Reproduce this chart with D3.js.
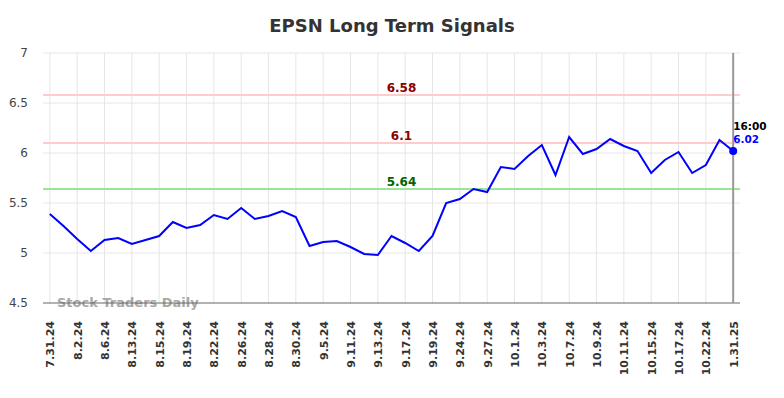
<!DOCTYPE html>
<html>
<head>
<meta charset="utf-8">
<script src="https://cdn.jsdelivr.net/npm/d3@7"></script>
<style>
  body { margin: 0; background: #fff; }
  svg { font-family: "DejaVu Sans", sans-serif; }
  .grid line { stroke: #e6e6e6; stroke-width: 1; }
</style>
</head>
<body>
<script>
// tick labels shown on the x axis (every other point)
var tickLabels = ["7.31.24", "8.2.24", "8.6.24", "8.13.24", "8.15.24", "8.19.24", "8.22.24",
    "8.26.24", "8.28.24", "8.30.24", "9.5.24", "9.11.24", "9.13.24", "9.17.24", "9.19.24",
    "9.24.24", "9.27.24", "10.1.24", "10.3.24", "10.7.24", "10.9.24", "10.11.24", "10.15.24",
    "10.17.24", "10.22.24", "1.31.25"];

// closing prices, one per point
var prices = [5.39, 5.27, 5.14, 5.02, 5.13, 5.15, 5.09, 5.13, 5.17, 5.31,
    5.25, 5.28, 5.38, 5.34, 5.45, 5.34, 5.37, 5.42, 5.36, 5.07,
    5.11, 5.12, 5.06, 4.99, 4.98, 5.17, 5.10, 5.02, 5.17, 5.50,
    5.54, 5.64, 5.61, 5.86, 5.84, 5.97, 6.08, 5.78, 6.16, 5.99,
    6.04, 6.14, 6.07, 6.02, 5.80, 5.93, 6.01, 5.80, 5.88, 6.13,
    6.02];

// signal levels
var signalValues = [6.58, 6.1, 5.64];
var signalKinds = ["resist", "resist", "support"];

var yTicks = [4.5, 5, 5.5, 6, 6.5, 7];

(function(){

var width = 784, height = 398;
var plotLeft = 43, plotRight = 740, plotTop = 53, plotBottom = 303;

var svg = d3.select("body").append("svg")
    .attr("width", width)
    .attr("height", height);

var x = d3.scalePoint()
    .domain(d3.range(prices.length))
    .range([plotLeft, plotRight])
    .padding(0.5);

var y = d3.scaleLinear()
    .domain([4.5, 7])
    .range([plotBottom, plotTop]);

var tickIdx = d3.range(0, prices.length, 2);

//title
svg.append("text")
    .attr("x", width / 2)
    .attr("y", 32)
    .attr("text-anchor", "middle")
    .attr("font-size", 18)
    .attr("font-weight", "bold")
    .attr("fill", "#333")
    .text("EPSN Long Term Signals");

//horizontal grid
svg.append("g").attr("class", "grid")
    .selectAll("line")
    .data(yTicks.slice(1))
    .enter().append("line")
    .attr("x1", plotLeft).attr("x2", plotRight)
    .attr("y1", function(d){ return y(d); })
    .attr("y2", function(d){ return y(d); });

//vertical grid
svg.append("g").attr("class", "grid")
    .selectAll("line")
    .data(tickIdx)
    .enter().append("line")
    .attr("x1", function(d){ return x(d); })
    .attr("x2", function(d){ return x(d); })
    .attr("y1", plotTop).attr("y2", plotBottom);

//y labels
svg.append("g")
    .selectAll("text")
    .data(yTicks)
    .enter().append("text")
    .attr("x", 28)
    .attr("y", function(d){ return y(d); })
    .attr("dy", "0.35em")
    .attr("text-anchor", "end")
    .attr("font-size", 12)
    .attr("fill", "#444")
    .text(function(d){ return d; });

//signal lines
var signalColor = { resist: "#ffcccc", support: "#99e699" };
var signalText = { resist: "#8b0000", support: "#006400" };
svg.append("g")
    .selectAll("line")
    .data(signalValues)
    .enter().append("line")
    .attr("x1", plotLeft).attr("x2", plotRight)
    .attr("y1", function(d){ return y(d); })
    .attr("y2", function(d){ return y(d); })
    .attr("stroke", function(d, i){ return signalColor[signalKinds[i]]; })
    .attr("stroke-width", 2);

svg.append("g")
    .selectAll("text")
    .data(signalValues)
    .enter().append("text")
    .attr("x", (plotLeft + plotRight) / 2 + 10)
    .attr("y", function(d){ return y(d) - 3; })
    .attr("text-anchor", "middle")
    .attr("font-size", 12)
    .attr("font-weight", "bold")
    .attr("fill", function(d, i){ return signalText[signalKinds[i]]; })
    .text(function(d){ return d; });

//watermark
svg.append("text")
    .attr("x", 57)
    .attr("y", 307)
    .attr("font-size", 13)
    .attr("font-weight", "bold")
    .attr("fill", "#999")
    .attr("opacity", 0.85)
    .text("Stock Traders Daily");

//x axis
var xAxis = d3.axisBottom(x)
    .tickValues(tickIdx)
    .tickSize(0)
    .tickFormat(function(d){ return tickLabels[d / 2]; });

var gx = svg.append("g")
    .attr("transform", "translate(0," + plotBottom + ")")
    .call(xAxis);
gx.select(".domain").attr("d", "M" + plotLeft + ",0H" + plotRight).attr("stroke", "#666");
gx.selectAll("text")
    .attr("transform", "rotate(-90)")
    .attr("x", -18)
    .attr("y", 0)
    .attr("dy", "0.35em")
    .attr("text-anchor", "end")
    .attr("font-size", 11)
    .attr("font-weight", "bold")
    .attr("font-family", "DejaVu Sans, sans-serif")
    .attr("fill", "#333");

//last point marker line
var last = prices.length - 1;
svg.append("line")
    .attr("x1", x(last)).attr("x2", x(last))
    .attr("y1", plotTop).attr("y2", plotBottom)
    .attr("stroke", "#999")
    .attr("stroke-width", 2);

//price line
var line = d3.line()
    .x(function(d, i){ return x(i); })
    .y(function(d){ return y(d); });

svg.append("path")
    .datum(prices)
    .attr("fill", "none")
    .attr("stroke", "#0000ff")
    .attr("stroke-width", 2)
    .attr("d", line);

svg.append("circle")
    .attr("cx", x(last))
    .attr("cy", y(prices[last]))
    .attr("r", 4)
    .attr("fill", "#0000ff");

svg.append("text")
    .attr("x", x(last))
    .attr("y", y(prices[last]) - 21)
    .attr("font-size", 10.5)
    .attr("font-weight", "bold")
    .attr("fill", "#000")
    .text("16:00");

svg.append("text")
    .attr("x", x(last))
    .attr("y", y(prices[last]) - 8)
    .attr("font-size", 10.5)
    .attr("font-weight", "bold")
    .attr("fill", "#0000ff")
    .text(prices[last].toFixed(2));

})();
</script>
</body>
</html>
